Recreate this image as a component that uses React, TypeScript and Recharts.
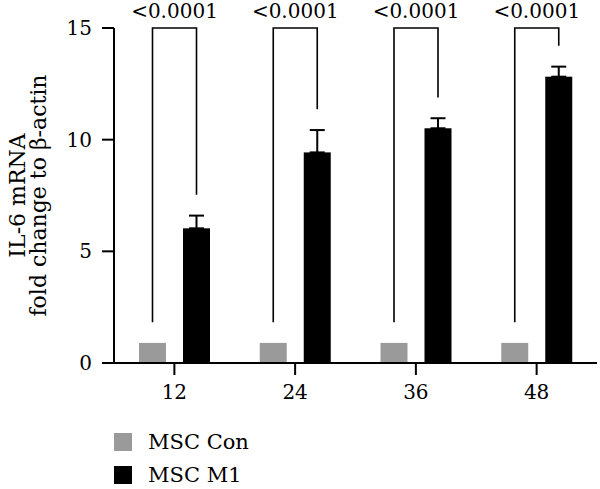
import React from "react";
import { Bar, BarChart, ErrorBar, Legend, XAxis, YAxis } from "recharts";

const hours = ["12", "24", "36", "48"];
const mscCon = [0.9, 0.9, 0.9, 0.9];
const mscM1 = [6.03, 9.43, 10.51, 12.82];
const mscM1Err = [0.57, 1.0, 0.45, 0.45];
const pValues = ["<0.0001", "<0.0001", "<0.0001", "<0.0001"];
const yTicks = [0, 5, 10, 15];

const BRACKET_TOP = 15;
const LEG_GAP = 0.93;
const BAR_SIZE = 27;
const BAR_GAP = 17;
const FONT = "'DejaVu Serif', serif";

const data = hours.map((h, i) => ({
  hour: h,
  con: mscCon[i],
  m1: mscM1[i],
  m1Err: [0, mscM1Err[i]],
  m1Top: mscM1[i] + mscM1Err[i],
  p: pValues[i],
}));

// black bar + the significance bracket over the pair
const M1Shape = (props: any) => {
  const { x, y, width, height, payload, fill } = props;
  const bottom = y + height;
  const unit = height / payload.m1;
  const yAt = (v: number) => bottom - v * unit;
  const right = x + width / 2;
  const left = right - BAR_SIZE - BAR_GAP;
  const top = yAt(BRACKET_TOP);
  return (
    <g>
      <rect x={x} y={y} width={width} height={height} fill={fill} />
      <path
        d={`M${left},${yAt(payload.con + LEG_GAP)}V${top}H${right}V${yAt(
          payload.m1Top + LEG_GAP
        )}`}
        fill="none"
        stroke="#000"
        strokeWidth={1.6}
      />
      <text
        x={(left + right) / 2}
        y={top - 10}
        textAnchor="middle"
        fontSize={20}
        fontFamily={FONT}
        fill="#000"
      >
        {payload.p}
      </text>
    </g>
  );
};

const YLabel = (props: any) => {
  const vb = props.viewBox || {};
  const cy = vb.height ? vb.y + vb.height / 2 : 195.5;
  return (
    <g fontFamily={FONT} fontSize={22} fill="#000">
      <text x={25} y={cy} textAnchor="middle" transform={`rotate(-90, 25, ${cy})`}>
        IL-6 mRNA
      </text>
      <text x={46} y={cy} textAnchor="middle" transform={`rotate(-90, 46, ${cy})`}>
        fold change to β-actin
      </text>
    </g>
  );
};

const renderLegend = (props: any) => (
  <div style={{ fontFamily: FONT, fontSize: 21, lineHeight: "24px", color: "#000" }}>
    {(props.payload || []).map((e: any) => (
      <div
        key={e.value}
        style={{ display: "flex", alignItems: "center", height: 33 }}
      >
        <span
          style={{
            width: 18,
            height: 18,
            background: e.color,
            marginRight: 16,
            display: "inline-block",
          }}
        />
        {e.value}
      </div>
    ))}
  </div>
);

const axisStroke = { stroke: "#000", strokeWidth: 2 };
const tickStyle = { fill: "#000", fontSize: 20, fontFamily: FONT };

const App: React.FC = () => {
  return (
    <div style={{ position: "absolute", left: 0, top: 0 }}>
      <BarChart
        width={600}
        height={489}
        data={data}
        margin={{ top: 28, right: 3, bottom: 96, left: 0 }}
        barSize={BAR_SIZE}
        barGap={BAR_GAP}
      >
        <XAxis
          dataKey="hour"
          height={30}
          tickSize={12}
          tickMargin={10}
          axisLine={axisStroke}
          tickLine={axisStroke}
          tick={tickStyle}
        />
        <YAxis
          domain={[0, 15]}
          ticks={yTicks}
          width={114}
          tickSize={12}
          tickMargin={10}
          axisLine={axisStroke}
          tickLine={axisStroke}
          tick={tickStyle}
          label={<YLabel />}
        />
        <Legend
          layout="vertical"
          align="center"
          verticalAlign="middle"
          content={renderLegend}
          wrapperStyle={{ left: 114, top: 425, width: 300 }}
        />
        <Bar dataKey="con" name="MSC Con" fill="#9a9a9a" isAnimationActive={false} />
        <Bar
          dataKey="m1"
          name="MSC M1"
          fill="#000"
          shape={M1Shape}
          isAnimationActive={false}
        >
          <ErrorBar
            dataKey="m1Err"
            direction="y"
            width={7.5}
            stroke="#000"
            strokeWidth={2}
            isAnimationActive={false}
          />
        </Bar>
      </BarChart>
    </div>
  );
};

export default App;
